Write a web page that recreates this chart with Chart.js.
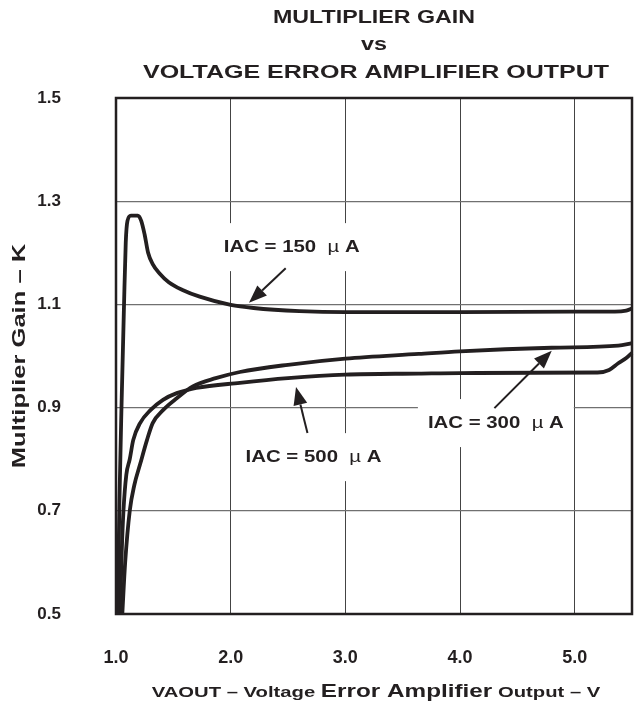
<!DOCTYPE html>
<html>
<head>
<meta charset="utf-8">
<script src="https://cdn.jsdelivr.net/npm/chart.js@4.4.1/dist/chart.umd.min.js"></script>
<style>
    body { margin: 0; background: #fff; }
    #wrap { width: 637px; height: 704px; }
</style>
</head>
<body>
<div id="wrap"><canvas id="gainChart" width="637" height="704"></canvas></div>
<script>
// VAOUT (V) vs multiplier gain K
const vaout150 = [1.015, 1.03, 1.05, 1.07, 1.085, 1.10, 1.13, 1.19, 1.22, 1.25, 1.28, 1.32, 1.38, 1.46, 1.58, 1.73, 2.0, 2.2, 2.6, 3.0, 4.0, 5.0, 5.35, 5.45, 5.5];
const gain150 = [0.50, 0.72, 0.92, 1.10, 1.22, 1.262, 1.272, 1.272, 1.262, 1.235, 1.20, 1.178, 1.16, 1.143, 1.128, 1.115, 1.099, 1.093, 1.087, 1.085, 1.085, 1.086, 1.086, 1.088, 1.092];

const vaout300 = [1.055, 1.08, 1.12, 1.16, 1.21, 1.27, 1.32, 1.41, 1.53, 1.67, 1.87, 2.08, 2.5, 3.0, 3.64, 4.0, 4.8, 5.38, 5.5];
const gain300 = [0.50, 0.60, 0.70, 0.75, 0.79, 0.837, 0.870, 0.895, 0.918, 0.941, 0.957, 0.969, 0.983, 0.995, 1.004, 1.009, 1.016, 1.020, 1.025];

const vaout500 = [1.035, 1.05, 1.065, 1.09, 1.12, 1.15, 1.21, 1.30, 1.41, 1.53, 1.70, 2.08, 2.5, 3.0, 3.64, 4.0, 5.2, 5.3, 5.38, 5.45, 5.5];
const gain500 = [0.50, 0.62, 0.70, 0.77, 0.80, 0.837, 0.870, 0.895, 0.915, 0.928, 0.938, 0.948, 0.957, 0.964, 0.966, 0.967, 0.968, 0.973, 0.986, 0.996, 1.006];

const xTicks = [1.0, 2.0, 3.0, 4.0, 5.0];
const yTicks = [0.5, 0.7, 0.9, 1.1, 1.3, 1.5];

const titleLines = ['MULTIPLIER GAIN', 'vs', 'VOLTAGE ERROR AMPLIFIER OUTPUT'];
const yTitle = 'Multiplier Gain \u2013 K';

// curve labels at (x, y) in data units, arrows as [tailX, tailY, tipX, tipY]
const curveLabels = [
    { text: 'IAC = 150', x: 1.94, y: 1.211, arrow: [2.48, 1.17, 2.16, 1.103] },
    { text: 'IAC = 300', x: 3.72, y: 0.870, arrow: [4.30, 0.899, 4.80, 1.010] },
    { text: 'IAC = 500', x: 2.13, y: 0.804, arrow: [2.67, 0.851, 2.57, 0.940] },
];

const INK = '#231f20';
const FONT = '"Liberation Sans", Arial, Helvetica, sans-serif';

function toPoints(xs, ys) {
    return xs.map((x, i) => ({ x, y: ys[i] }));
}

function makeSet(label, xs, ys) {
    return {
        label,
        data: toPoints(xs, ys),
        borderColor: INK,
        borderWidth: 3.8,
        pointRadius: 0,
        fill: false,
        cubicInterpolationMode: 'monotone',
        clip: false,
    };
}

// the source figure is stretched sideways, so text gets a horizontal scale
function runWidth(ctx, parts) {
    let w = 0;
    parts.forEach((p) => {
        ctx.font = p[1];
        w += ctx.measureText(p[0]).width;
    });
    return w;
}

function drawRun(ctx, parts, x, y, sx, align) {
    const w = runWidth(ctx, parts);
    let start = 0;
    if (align === 'center') start = -w / 2;
    ctx.save();
    ctx.translate(x, y);
    ctx.scale(sx, 1);
    ctx.textAlign = 'left';
    let px = start;
    parts.forEach((p) => {
        ctx.font = p[1];
        ctx.fillText(p[0], px, 0);
        px += ctx.measureText(p[0]).width;
    });
    ctx.restore();
    return w * sx;
}

const textPlugin = {
    id: 'textPlugin',
    afterDatasetsDraw(chart) {
        const ctx = chart.ctx;
        const area = chart.chartArea;
        const sx = chart.scales.x;
        const sy = chart.scales.y;
        const cx = (area.left + area.right) / 2;

        ctx.save();
        ctx.fillStyle = INK;
        ctx.strokeStyle = INK;
        ctx.textBaseline = 'middle';

        // title
        const tFont = 'bold 18px ' + FONT;
        drawRun(ctx, [[titleLines[0], tFont]], cx, 18, 1.29, 'center');
        drawRun(ctx, [[titleLines[1], tFont]], cx, 45, 1.3, 'center');
        drawRun(ctx, [[titleLines[2], tFont]], cx + 2, 73, 1.39, 'center');

        // x axis title, mixed sizes like the original
        ctx.textBaseline = 'alphabetic';
        drawRun(ctx, [
            ['VAOUT \u2013 Voltage ', 'bold 15px ' + FONT],
            ['Error Amplifier', 'bold 18px ' + FONT],
            [' Output \u2013 V', 'bold 15px ' + FONT],
        ], cx + 2, 697, 1.35, 'center');

        // y axis title
        ctx.save();
        ctx.translate(20, (area.top + area.bottom) / 2);
        ctx.rotate(-Math.PI / 2);
        ctx.textBaseline = 'middle';
        drawRun(ctx, [[yTitle, 'bold 18px ' + FONT]], 0, 0, 1.42, 'center');
        ctx.restore();

        // curve labels with a white box behind them (grid breaks there)
        curveLabels.forEach((lab) => {
            const lx = sx.getPixelForValue(lab.x);
            const ly = sy.getPixelForValue(lab.y);
            const parts = [
                [lab.text + '  ', 'bold 17px ' + FONT],
                ['\u00b5', '17px ' + FONT],
                [' A', 'bold 17px ' + FONT],
            ];
            const w = runWidth(ctx, parts) * 1.2;
            ctx.fillStyle = '#fff';
            ctx.fillRect(lx - 10, ly - 24, w + 20, 48);
            ctx.fillStyle = INK;
            ctx.textBaseline = 'middle';
            drawRun(ctx, parts, lx, ly, 1.2, 'left');

            // arrow
            const a = lab.arrow;
            const x1 = sx.getPixelForValue(a[0]);
            const y1 = sy.getPixelForValue(a[1]);
            const x2 = sx.getPixelForValue(a[2]);
            const y2 = sy.getPixelForValue(a[3]);
            const ang = Math.atan2(y2 - y1, x2 - x1);
            const head = 18;
            const half = 7;
            const bx = x2 - head * Math.cos(ang);
            const by = y2 - head * Math.sin(ang);
            ctx.lineWidth = 2;
            ctx.beginPath();
            ctx.moveTo(x1, y1);
            ctx.lineTo(bx, by);
            ctx.stroke();
            ctx.beginPath();
            ctx.moveTo(x2, y2);
            ctx.lineTo(bx + half * Math.sin(ang), by - half * Math.cos(ang));
            ctx.lineTo(bx - half * Math.sin(ang), by + half * Math.cos(ang));
            ctx.closePath();
            ctx.fill();
        });

        // plot frame
        ctx.lineWidth = 2.5;
        ctx.strokeRect(area.left, area.top, area.right - area.left, area.bottom - area.top);
        ctx.restore();
    },
};

const ctx = document.getElementById('gainChart').getContext('2d');

new Chart(ctx, {
    type: 'line',
    data: {
        datasets: [
            makeSet('IAC = 150 \u00b5A', vaout150, gain150),
            makeSet('IAC = 300 \u00b5A', vaout300, gain300),
            makeSet('IAC = 500 \u00b5A', vaout500, gain500),
        ],
    },
    options: {
        responsive: false,
        animation: false,
        events: [],
        layout: {
            padding: { left: 0, right: 5, top: 98, bottom: 0 },
        },
        plugins: {
            legend: { display: false },
            tooltip: { enabled: false },
        },
        scales: {
            x: {
                type: 'linear',
                min: 1.0,
                max: 5.5,
                afterFit: (scale) => { scale.height = 90; },
                afterBuildTicks: (scale) => {
                    scale.ticks = xTicks.map((v) => ({ value: v }));
                },
                grid: { color: '#444', lineWidth: 1, drawTicks: false },
                border: { display: false },
                ticks: {
                    padding: 33,
                    color: INK,
                    font: { family: FONT, size: 18, weight: 'bold' },
                    maxRotation: 0,
                    callback: (v) => Number(v).toFixed(1),
                },
            },
            y: {
                type: 'linear',
                min: 0.5,
                max: 1.5,
                afterFit: (scale) => { scale.width = 116; },
                afterBuildTicks: (scale) => {
                    scale.ticks = yTicks.map((v) => ({ value: v }));
                },
                grid: { color: '#707070', lineWidth: 1.2, drawTicks: false },
                border: { display: false },
                ticks: {
                    padding: 55,
                    color: INK,
                    font: { family: FONT, size: 17, weight: 'bold' },
                    callback: (v) => Number(v).toFixed(1),
                },
            },
        },
    },
    plugins: [textPlugin],
});
</script>
</body>
</html>
